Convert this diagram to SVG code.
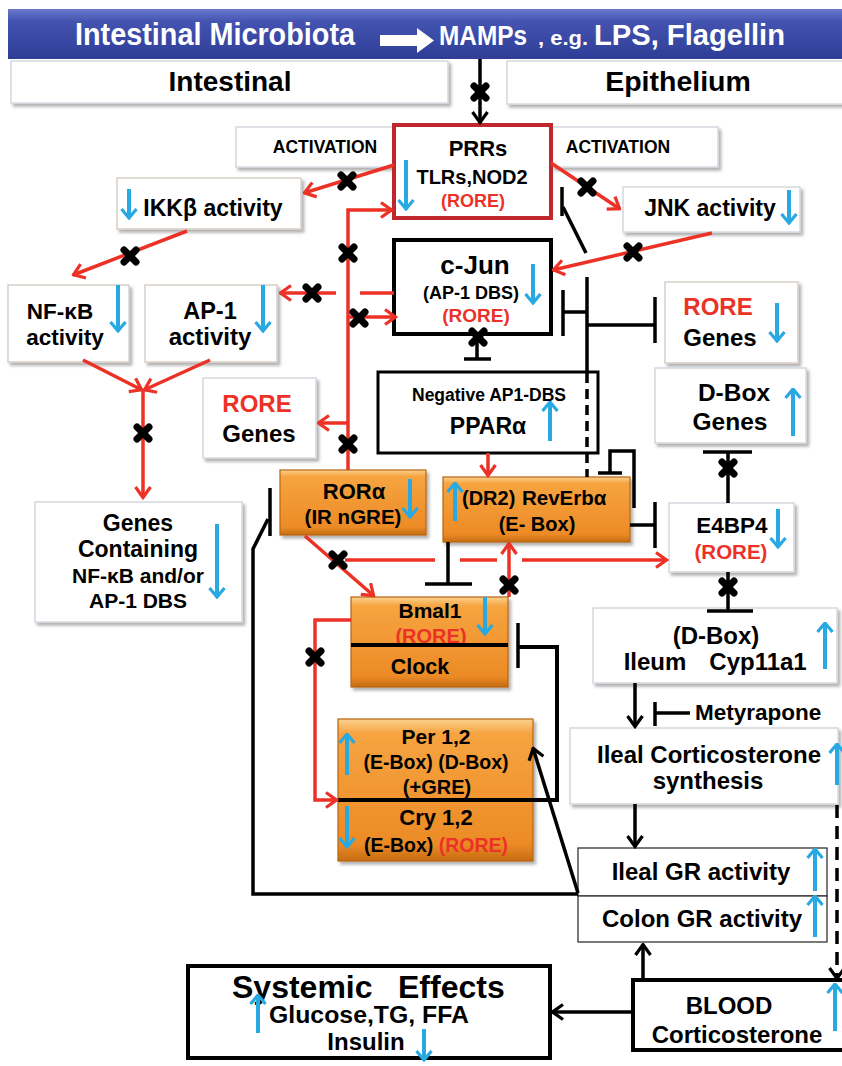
<svg xmlns="http://www.w3.org/2000/svg" width="842" height="1066" viewBox="0 0 842 1066">
<defs>
<style>
.t{font-family:"Liberation Sans",Arial,sans-serif;font-weight:bold;text-anchor:middle;fill:#000}
.s{text-anchor:start}
.r{fill:#ec3226}
.w{fill:#fff}
.wb{fill:#fff;stroke:#d8cfc7;stroke-width:1.5;filter:url(#sh)}
.gb{fill:#fff;stroke:#d4d8de;stroke-width:1.5;filter:url(#sh)}
.ob{fill:url(#og);stroke:#b8640f;stroke-width:1.2;filter:url(#sh)}
.kb{fill:#fff;stroke:#000;stroke-width:4}
.tb{fill:#fff;stroke:#333;stroke-width:1.3}
.rl{stroke:#ec3226;stroke-width:3.5;fill:none}
.bl{stroke:#000;stroke-width:3.5;fill:none}
.ra{marker-end:url(#mr)}
.ba{marker-end:url(#mb)}
.bu{stroke:#29a9e1;stroke-width:4;fill:none;marker-end:url(#mu)}
</style>
<linearGradient id="bg" x1="0" y1="0" x2="0" y2="1">
<stop offset="0" stop-color="#6a78cc"/><stop offset="0.25" stop-color="#4353b0"/><stop offset="1" stop-color="#2f3d96"/>
</linearGradient>
<linearGradient id="og" x1="0" y1="0" x2="0" y2="1">
<stop offset="0" stop-color="#fcd290"/><stop offset="0.1" stop-color="#f6a440"/><stop offset="0.88" stop-color="#ec8b26"/><stop offset="1" stop-color="#c56c12"/>
</linearGradient>
<filter id="sh" x="-10%" y="-10%" width="130%" height="140%">
<feDropShadow dx="2.5" dy="3" stdDeviation="1.5" flood-color="#000" flood-opacity="0.3"/>
</filter>
<marker id="mr" viewBox="0 0 14 18" refX="12.5" refY="9" markerWidth="14" markerHeight="18" markerUnits="userSpaceOnUse" orient="auto">
<path d="M1.5,1.5 L12,9 L1.5,16.5" fill="none" stroke="#ec3226" stroke-width="3.2"/>
</marker>
<marker id="mb" viewBox="0 0 14 18" refX="12.5" refY="9" markerWidth="14" markerHeight="18" markerUnits="userSpaceOnUse" orient="auto">
<path d="M1.5,1.5 L12,9 L1.5,16.5" fill="none" stroke="#000" stroke-width="3.2"/>
</marker>
<marker id="mu" viewBox="0 0 12 18" refX="10.5" refY="9" markerWidth="12" markerHeight="18" markerUnits="userSpaceOnUse" orient="auto">
<path d="M1.5,1.5 L10.5,9 L1.5,16.5" fill="none" stroke="#29a9e1" stroke-width="3.2"/>
</marker>
<path id="xm" d="M-6,-6 L6,6 M-6,6 L6,-6" stroke="#000" stroke-width="7" stroke-linecap="round"/>
</defs>
<rect width="842" height="1066" fill="#fff"/>

<g id="banner">
<rect x="8" y="9" width="840" height="50" fill="url(#bg)"/>
<text class="t w s" x="75" y="45" font-size="31" textLength="280" lengthAdjust="spacingAndGlyphs">Intestinal Microbiota</text>
<polygon points="380,35 417,35 417,28 434,40.5 417,53 417,46 380,46" fill="#fff"/>
<text class="t w s" x="439" y="45" font-size="27" textLength="88" lengthAdjust="spacingAndGlyphs">MAMPs</text>
<text class="t w s" x="538" y="45" font-size="20" textLength="50" lengthAdjust="spacingAndGlyphs">, e.g.</text>
<text class="t w s" x="594" y="45" font-size="29" textLength="191" lengthAdjust="spacingAndGlyphs">LPS, Flagellin</text>
</g>

<g id="intestinal">
<rect class="gb" x="11" y="61" width="437" height="42"/>
<text class="t" x="230" y="91" font-size="28">Intestinal</text>
</g>
<g id="epithelium">
<rect class="gb" x="507" y="61" width="340" height="43"/>
<text class="t" x="678" y="91" font-size="28.5">Epithelium</text>
</g>

<g id="activation-left">
<rect class="gb" x="236" y="127" width="160" height="40"/>
<text class="t" x="325" y="153" font-size="17.5">ACTIVATION</text>
</g>
<g id="activation-right">
<rect class="gb" x="552" y="127" width="166" height="40"/>
<text class="t" x="618" y="153" font-size="17.5">ACTIVATION</text>
</g>

<g id="prrs">
<rect x="394" y="125" width="157" height="93" fill="#fff" stroke="#c0272d" stroke-width="4"/>
<text class="t" x="478" y="156" font-size="22">PRRs</text>
<text class="t" x="472" y="184" font-size="20">TLRs,NOD2</text>
<text class="t r" x="473" y="207" font-size="18">(RORE)</text>
<line class="bu" x1="406" y1="160" x2="406" y2="209"/>
</g>

<g id="ikkb">
<rect class="wb" x="117" y="178" width="184" height="51"/>
<text class="t" x="213" y="216" font-size="23">IKKβ activity</text>
<line class="bu" x1="129" y1="189" x2="129" y2="218"/>
</g>

<g id="jnk">
<rect class="gb" x="623" y="187" width="177" height="45"/>
<text class="t" x="710" y="216" font-size="23">JNK activity</text>
<line class="bu" x1="789" y1="190" x2="789" y2="223"/>
</g>

<g id="cjun">
<rect class="kb" x="394" y="240" width="157" height="94"/>
<text class="t" x="475" y="274" font-size="26">c-Jun</text>
<text class="t" x="471" y="299" font-size="18">(AP-1 DBS)</text>
<text class="t r" x="476" y="322" font-size="19">(RORE)</text>
<line class="bu" x1="533" y1="264" x2="533" y2="303"/>
</g>

<g id="nfkb">
<rect class="wb" x="8" y="285" width="121" height="77"/>
<text class="t" x="60" y="319" font-size="22.5">NF-κB</text>
<text class="t" x="65" y="345" font-size="22.5">activity</text>
<line class="bu" x1="118" y1="285" x2="118" y2="331"/>
</g>

<g id="ap1">
<rect class="wb" x="145" y="285" width="132" height="77"/>
<text class="t" x="210" y="319" font-size="23.5">AP-1</text>
<text class="t" x="210" y="345" font-size="24">activity</text>
<line class="bu" x1="263" y1="285" x2="263" y2="331"/>
</g>

<g id="rore-genes-left">
<rect class="gb" x="203" y="378" width="113" height="80"/>
<text class="t r" x="257" y="412" font-size="24">RORE</text>
<text class="t" x="259" y="442" font-size="24">Genes</text>
</g>

<g id="ppara">
<rect x="378" y="372" width="220" height="81" fill="#fff" stroke="#000" stroke-width="3"/>
<text class="t" x="489" y="401" font-size="17.5">Negative AP1-DBS</text>
<text class="t" x="488" y="434" font-size="23">PPARα</text>
<line class="bu" x1="550" y1="441" x2="550" y2="402"/>
</g>

<g id="rore-genes-right">
<rect class="wb" x="665" y="282" width="133" height="81"/>
<text class="t r" x="718" y="315" font-size="24">RORE</text>
<text class="t" x="720" y="346" font-size="24">Genes</text>
<line class="bu" x1="777" y1="303" x2="777" y2="341"/>
</g>

<g id="dbox-genes">
<rect class="gb" x="655" y="368" width="151" height="75"/>
<text class="t" x="734" y="401" font-size="24.5">D-Box</text>
<text class="t" x="730" y="430" font-size="24.5">Genes</text>
<line class="bu" x1="793" y1="436" x2="793" y2="389"/>
</g>

<g id="genes-containing">
<rect class="gb" x="35" y="502" width="207" height="120"/>
<text class="t" x="138" y="531" font-size="23">Genes</text>
<text class="t" x="138" y="557" font-size="23">Containing</text>
<text class="t" x="138" y="583" font-size="21">NF-κB and/or</text>
<text class="t" x="138" y="608" font-size="21">AP-1 DBS</text>
<line class="bu" x1="217" y1="524" x2="217" y2="597"/>
</g>

<g id="rora">
<rect class="ob" x="280" y="470" width="146" height="65"/>
<text class="t" x="354" y="499" font-size="22">RORα</text>
<text class="t" x="353" y="524" font-size="20.5">(IR nGRE)</text>
<line class="bu" x1="410" y1="479" x2="410" y2="517"/>
</g>

<g id="reverba">
<rect class="ob" x="443" y="477" width="187" height="65"/>
<text class="t s" x="462" y="505" font-size="20">(DR2)</text>
<text class="t s" x="522" y="505" font-size="20.5">RevErbα</text>
<text class="t" x="537" y="531" font-size="20">(E- Box)</text>
<line class="bu" x1="455" y1="521" x2="455" y2="483"/>
</g>

<g id="e4bp4">
<rect class="gb" x="669" y="503" width="125" height="69"/>
<text class="t" x="732" y="533" font-size="22.5">E4BP4</text>
<text class="t r" x="731" y="559" font-size="20.5">(RORE)</text>
<line class="bu" x1="778" y1="509" x2="778" y2="547"/>
</g>

<g id="bmal1-clock">
<rect class="ob" x="351" y="597" width="157" height="90"/>
<text class="t" x="430" y="618" font-size="21">Bmal1</text>
<text class="t r" x="431" y="643" font-size="20">(RORE)</text>
<line x1="351" y1="645" x2="508" y2="645" stroke="#000" stroke-width="4"/>
<text class="t" x="420" y="674" font-size="21.5">Clock</text>
<line class="bu" x1="485" y1="597" x2="485" y2="634"/>
</g>

<g id="cyp11a1">
<rect class="gb" x="593" y="608" width="244" height="75"/>
<text class="t" x="716" y="644" font-size="24">(D-Box)</text>
<text class="t" x="655" y="670" font-size="24">Ileum</text>
<text class="t" x="758" y="670" font-size="24">Cyp11a1</text>
<line class="bu" x1="825" y1="669" x2="825" y2="623"/>
</g>

<g id="per-cry">
<rect class="ob" x="338" y="719" width="195" height="142"/>
<text class="t" x="436" y="744" font-size="21">Per 1,2</text>
<text class="t" x="436" y="769" font-size="19.5">(E-Box) (D-Box)</text>
<text class="t" x="437" y="794" font-size="20">(+GRE)</text>
<line x1="338" y1="800" x2="533" y2="800" stroke="#000" stroke-width="4"/>
<text class="t" x="436" y="825" font-size="22">Cry 1,2</text>
<text class="t" x="436" y="852" font-size="19.5">(E-Box) <tspan class="r">(RORE)</tspan></text>
<line class="bu" x1="347" y1="775" x2="347" y2="734"/>
<line class="bu" x1="347" y1="806" x2="347" y2="847"/>
</g>

<g id="ileal-corticosterone">
<rect class="gb" x="570" y="728" width="268" height="76"/>
<text class="t" x="709" y="763" font-size="24">Ileal Corticosterone</text>
<text class="t" x="708" y="789" font-size="24">synthesis</text>
<line class="bu" x1="837" y1="785" x2="837" y2="744"/>
</g>

<g id="metyrapone">
<text class="t s" x="695" y="720" font-size="22.5">Metyrapone</text>
</g>

<g id="ileal-gr">
<rect class="tb" x="578" y="848" width="249" height="48"/>
<text class="t" x="701" y="880" font-size="24">Ileal GR activity</text>
<line class="bu" x1="815" y1="891" x2="815" y2="849"/>
</g>

<g id="colon-gr">
<rect class="tb" x="578" y="896" width="249" height="46"/>
<text class="t" x="702" y="927" font-size="24">Colon GR activity</text>
<line class="bu" x1="815" y1="937" x2="815" y2="896"/>
</g>

<g id="blood">
<rect class="kb" x="633" y="980" width="215" height="70"/>
<text class="t" x="729" y="1014" font-size="24">BLOOD</text>
<text class="t" x="737" y="1043" font-size="24">Corticosterone</text>
<line class="bu" x1="835" y1="1031" x2="835" y2="984"/>
</g>

<g id="systemic">
<rect class="kb" x="188" y="966" width="362" height="92"/>
<text class="t s" x="232" y="998" font-size="32">Systemic</text>
<text class="t s" x="398" y="998" font-size="32">Effects</text>
<text class="t s" x="269" y="1023" font-size="24" textLength="200" lengthAdjust="spacingAndGlyphs">Glucose,TG, FFA</text>
<text class="t" x="366" y="1050" font-size="24">Insulin</text>
<line class="bu" x1="258" y1="1033" x2="258" y2="995"/>
<line class="bu" x1="424" y1="1029" x2="424" y2="1060"/>
</g>

<g id="connectors">
<line class="bl ba" x1="480" y1="59" x2="480" y2="123"/>
<use href="#xm" x="480" y="92"/>
<line class="bl" x1="587" y1="277" x2="587" y2="373"/>
<line class="bl" x1="587" y1="373" x2="587" y2="477" stroke-dasharray="10 6"/>
<line class="bl" x1="563" y1="312" x2="587" y2="312"/>
<line class="bl" x1="563" y1="290" x2="563" y2="336"/>
<line class="bl" x1="587" y1="325" x2="655" y2="325"/>
<line class="bl" x1="655" y1="297" x2="655" y2="343"/>
<line class="bl" x1="586" y1="253" x2="563" y2="207"/>
<line class="bl" x1="562" y1="187" x2="562" y2="216"/>
<line class="bl" x1="477" y1="334" x2="477" y2="359"/>
<line class="bl" x1="464" y1="359" x2="491" y2="359"/>
<use href="#xm" x="478" y="337"/>
<path class="bl" d="M634,508 V451 H610 V473"/>
<line class="bl" x1="598" y1="473" x2="622" y2="473"/>
<line class="bl" x1="630" y1="525" x2="655" y2="525"/>
<line class="bl" x1="655" y1="502" x2="655" y2="548"/>
<line class="bl" x1="728" y1="503" x2="728" y2="452"/>
<line class="bl" x1="703" y1="452" x2="752" y2="452"/>
<use href="#xm" x="728" y="468"/>
<line class="bl" x1="728" y1="572" x2="728" y2="611"/>
<line class="bl" x1="707" y1="611" x2="753" y2="611"/>
<use href="#xm" x="728" y="587"/>
<line class="bl" x1="448" y1="542" x2="448" y2="584"/>
<line class="bl" x1="425" y1="584" x2="472" y2="584"/>
<path d="M533,800 H557 V647 H518" fill="none" stroke="#000" stroke-width="4"/>
<line class="bl" x1="518" y1="623" x2="518" y2="668"/>
<path class="bl" d="M578,894 H253 V549 L268,519"/>
<line class="bl" x1="270" y1="488" x2="270" y2="536"/>
<line class="bl ba" x1="578" y1="893" x2="533" y2="748"/>
<line class="bl ba" x1="635" y1="683" x2="635" y2="727"/>
<line class="bl" x1="690" y1="713" x2="655" y2="713"/>
<line class="bl" x1="655" y1="702" x2="655" y2="726"/>
<line class="bl ba" x1="635" y1="804" x2="635" y2="847"/>
<line class="bl ba" x1="837" y1="805" x2="837" y2="979" stroke-width="4" stroke-dasharray="13 8"/>
<line class="bl ba" x1="643" y1="980" x2="643" y2="944"/>
<line class="bl ba" x1="633" y1="1012" x2="552" y2="1012"/>
<line class="rl ra" x1="394" y1="165" x2="304" y2="193"/>
<use href="#xm" x="347" y="181"/>
<line class="rl ra" x1="551" y1="163" x2="620" y2="209"/>
<use href="#xm" x="587" y="187"/>
<line class="rl ra" x1="187" y1="231" x2="73" y2="275"/>
<use href="#xm" x="130" y="256"/>
<line class="rl ra" x1="712" y1="233" x2="553" y2="270"/>
<use href="#xm" x="633" y="252"/>
<line class="rl" x1="394" y1="293" x2="360" y2="293"/>
<line class="rl ra" x1="336" y1="293" x2="280" y2="293"/>
<use href="#xm" x="312" y="293"/>
<path class="rl ra" d="M348,470 V210 H392"/>
<use href="#xm" x="348" y="253"/>
<use href="#xm" x="348" y="444"/>
<line class="rl ra" x1="348" y1="317" x2="396" y2="317"/>
<use href="#xm" x="359" y="318"/>
<line class="rl ra" x1="348" y1="423" x2="318" y2="423"/>
<line class="rl ra" x1="83" y1="360" x2="142" y2="390"/>
<line class="rl ra" x1="210" y1="360" x2="144" y2="390"/>
<line class="rl ra" x1="143" y1="389" x2="143" y2="498"/>
<use href="#xm" x="143" y="433"/>
<line class="rl ra" x1="305" y1="536" x2="374" y2="596"/>
<line class="rl" x1="345" y1="560" x2="435" y2="560"/>
<line class="rl" x1="460" y1="560" x2="497" y2="560"/>
<line class="rl ra" x1="522" y1="560" x2="667" y2="560"/>
<use href="#xm" x="338" y="560"/>
<line class="rl ra" x1="509" y1="597" x2="509" y2="543"/>
<use href="#xm" x="509" y="585"/>
<line class="rl ra" x1="488" y1="453" x2="488" y2="476"/>
<path class="rl ra" d="M351,620 H315 V800 H337"/>
<use href="#xm" x="315" y="657"/>
</g>
</svg>
